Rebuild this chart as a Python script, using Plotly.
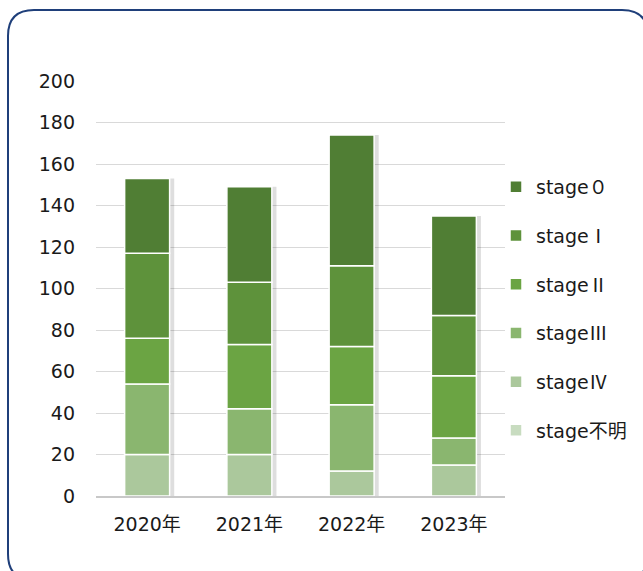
import plotly.graph_objects as go

years = ['2020年', '2021年', '2022年', '2023年']

# bottom of the stack first
cjk = '<span style="font-family:Noto Sans CJK JP">{}</span>'
stages = ['stage' + cjk.format('不明'), 'stage' + cjk.format('Ⅳ'), 'stage' + cjk.format('Ⅲ'),
          'stage' + cjk.format('Ⅱ'), 'stage' + cjk.format('Ⅰ'), 'stage' + cjk.format('０')]
stage_fumei = [0, 0, 0, 0]
stage_4 = [20, 20, 12, 15]
stage_3 = [34, 22, 32, 13]
stage_2 = [22, 31, 28, 30]
stage_1 = [41, 30, 39, 29]
stage_0 = [36, 46, 63, 48]
series = [stage_fumei, stage_4, stage_3, stage_2, stage_1, stage_0]
colors = ['#c8dcc0', '#abc89c', '#8ab66f', '#6ba443', '#5e923b', '#507e34']

W, H = 643, 571
L, R, T, B = 96, 138, 81, 75
pw, ph = W - L - R, H - T - B


def px(x):
    return (x - L) / pw


def py(y):
    return (H - B - y) / ph


fig = go.Figure()

# soft drop shadow behind each stacked bar
totals = [sum(v) for v in zip(*series)]
fig.add_trace(go.Bar(
    x=years, y=totals, base=0,
    width=0.44, offset=-0.22 + 0.045,
    marker=dict(color='rgba(0,0,0,0.13)', line=dict(width=0)),
    showlegend=False, hoverinfo='skip'
))

base = [0, 0, 0, 0]
for i, (name, vals, col) in enumerate(zip(stages, series, colors)):
    fig.add_trace(go.Bar(
        x=years, y=vals, base=base[:],
        name=name, legendgroup=str(i), legendrank=len(stages) - i,
        width=0.44, offset=-0.22,
        marker=dict(color=col, line=dict(color='white', width=1.5)),
    ))
    base = [b + v for b, v in zip(base, vals)]

# rounded frame around the chart
x0, x1, y0, y1, r = px(8), px(648), py(10), py(580), 26
frame = (f'M {px(8 + r)},{y0} L {px(648 - r)},{y0} '
         f'Q {x1},{y0} {x1},{py(10 + r)} '
         f'L {x1},{py(580 - r)} Q {x1},{y1} {px(648 - r)},{y1} '
         f'L {px(8 + r)},{y1} Q {x0},{y1} {x0},{py(580 - r)} '
         f'L {x0},{py(10 + r)} Q {x0},{y0} {px(8 + r)},{y0} Z')
fig.add_shape(type='path', path=frame, xref='paper', yref='paper',
              line=dict(color='#1f3f7a', width=2), layer='above')

fig.update_layout(
    width=W, height=H,
    margin=dict(l=L, r=R, t=T, b=B, autoexpand=False),
    barmode='overlay',
    plot_bgcolor='white',
    paper_bgcolor='white',
    font=dict(family='DejaVu Sans, Noto Sans CJK JP', size=19, color='#1a1a1a'),
    xaxis=dict(
        showgrid=False,
        showline=True, linecolor='#c8c8c8', linewidth=1.5,
        ticks='', tickfont=dict(size=19), ticklabelstandoff=10,
        fixedrange=True,
    ),
    yaxis=dict(
        range=[0, 200], dtick=20,
        showgrid=True, gridcolor='#d9d9d9', gridwidth=1,
        zeroline=False, showline=False,
        ticks='', ticklabelstandoff=20,
        tickfont=dict(size=19),
        fixedrange=True,
    ),
    legend=dict(
        xref='container', yref='container',
        x=496 / W, y=1 - 168 / H, xanchor='left', yanchor='top',
        traceorder='grouped', tracegroupgap=21,
        font=dict(size=19), itemwidth=30,
        bgcolor='rgba(0,0,0,0)',
    ),
)

fig.write_html('out.html', config={'displayModeBar': False},
               post_script="document.body.style.margin='0';")
